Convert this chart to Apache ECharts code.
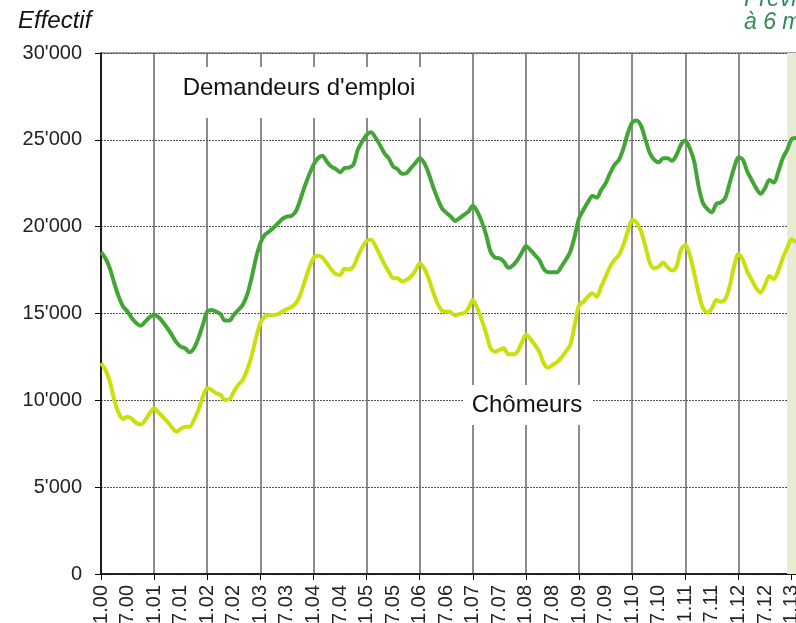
<!DOCTYPE html>
<html>
<head>
<meta charset="utf-8">
<script src="https://cdn.jsdelivr.net/npm/echarts@6/dist/echarts.min.js"></script>
<style>
  html, body { margin: 0; padding: 0; background: #fff; }
  #chart { width: 796px; height: 623px; }
</style>
</head>
<body>
<div id="chart"></div>
<script>
// months 1.00 .. 2.13 (label = month.year)
var months = [];
for (var y = 0; y <= 13; y++) {
  for (var m = 1; m <= 12; m++) {
    if (y === 13 && m > 2) break;
    months.push(m + '.' + (y < 10 ? '0' + y : y));
  }
}

var demandeurs = [
  18530, 18180, 17600, 16740, 15970, 15400, 15110, 14730, 14440, 14300, 14530, 14790,
  14920, 14790, 14500, 14150, 13770, 13350, 13090, 13000, 12770, 13000, 13580, 14340,
  15110, 15200, 15110, 14960, 14590, 14590, 14920, 15200, 15490, 16070, 17030, 18180,
  19050, 19530, 19720, 19950, 20200, 20450, 20580, 20620, 20870, 21540, 22310, 22980,
  23560, 23940, 24090, 23750, 23460, 23330, 23140, 23370, 23400, 23560, 24420, 24900,
  25290, 25440, 25130, 24710, 24230, 23940, 23460, 23310, 23040, 23080, 23370, 23660,
  23940, 23660, 23080, 22310, 21640, 21060, 20800, 20580, 20330, 20490, 20680, 20870,
  21210, 20870, 20290, 19530, 18560, 18220, 18180, 17990, 17640, 17760, 18050, 18470,
  18890, 18660, 18370, 18090, 17570, 17380, 17380, 17380, 17700, 18090, 18560, 19430,
  20490, 20970, 21410, 21770, 21670, 22120, 22500, 23080, 23560, 23850, 24500, 25380,
  25990, 26110, 25800, 25000, 24230, 23850, 23710, 23940, 23940, 23790, 24130, 24710,
  24960, 24520, 23750, 22310, 21350, 21010, 20830, 21310, 21390, 21640, 22500, 23370,
  24000, 23850, 23170, 22690, 22220, 21890, 22220, 22690, 22540, 23170, 23940, 24420,
  25040, 25100
];

var chomeurs = [
  12140, 11750, 11080, 10020, 9260, 8930, 9060, 8930, 8680, 8620, 8870, 9260,
  9540, 9290, 9030, 8770, 8450, 8200, 8350, 8480, 8480, 8870, 9450, 10210,
  10700, 10600, 10410, 10310, 10020, 10060, 10500, 10890, 11170, 11750, 12520, 13580,
  14440, 14820, 14920, 14920, 14960, 15110, 15260, 15360, 15590, 16070, 16840, 17610,
  18180, 18320, 18220, 17900, 17550, 17280, 17220, 17570, 17550, 17700, 18280, 18800,
  19180, 19240, 18890, 18370, 17840, 17410, 17030, 17030, 16840, 16930, 17120, 17450,
  17900, 17610, 17030, 16260, 15590, 15170, 15110, 15070, 14880, 14980, 15020, 15300,
  15780, 15300, 14630, 13860, 13000, 12800, 12900, 13000, 12650, 12650, 12770, 13290,
  13770, 13540, 13190, 12800, 12140, 11880, 12040, 12190, 12460, 12800, 13190, 14340,
  15490, 15680, 15970, 16170, 15970, 16550, 17120, 17700, 18090, 18370, 18950, 19720,
  20390, 20240, 19720, 18850, 17900, 17610, 17700, 17930, 17660, 17470, 17700, 18660,
  18950, 18370, 17320, 16170, 15300, 15050, 15300, 15780, 15680, 15820, 16550, 17700,
  18430, 18090, 17410, 16930, 16460, 16200, 16650, 17160, 16990, 17470, 18180, 18760,
  19280, 19080
];

var forecastFrom = '12.12';

function fmt(v) {
  return String(v).replace(/\B(?=(\d{3})+(?!\d))/g, "'");
}

var chart = echarts.init(document.getElementById('chart'));
chart.setOption({
  animation: false,
  textStyle: { fontFamily: 'Liberation Sans, Arial, sans-serif' },
  grid: {
    left: 101, right: 0, top: 53, bottom: 49,
    outerBoundsMode: 'none',
    show: true, borderColor: '#888', borderWidth: 1.5, backgroundColor: 'transparent'
  },
  xAxis: {
    type: 'category',
    data: months,
    boundaryGap: false,
    axisLine: { lineStyle: { color: '#000', width: 1.5 } },
    axisTick: {
      show: true, length: 6, lineStyle: { color: '#000' },
      interval: function (i) { return i % 12 === 0; }
    },
    axisLabel: {
      rotate: 90, fontSize: 20, color: '#222', margin: 11,
      interval: function (i) { return i % 6 === 0; }
    },
    splitLine: {
      show: true, lineStyle: { color: '#666', width: 1.5 },
      interval: function (i) { return i % 12 === 0; }
    }
  },
  yAxis: {
    type: 'value',
    min: 0, max: 30000, interval: 5000,
    axisLine: { show: true, lineStyle: { color: '#000', width: 1.5 } },
    axisTick: { show: true, length: 6, lineStyle: { color: '#000' } },
    axisLabel: { fontSize: 20, color: '#222', margin: 19, formatter: fmt },
    splitLine: { lineStyle: { color: '#555', type: [2, 1], width: 1 } }
  },
  series: [
    {
      name: "Demandeurs d'emploi",
      type: 'line',
      data: demandeurs,
      showSymbol: false,
      smooth: 0.3,
      lineStyle: { color: '#43a535', width: 4 },
      z: 5,
      markArea: {
        silent: true,
        itemStyle: { color: '#e8ebd4' },
        data: [[{ xAxis: forecastFrom }, { xAxis: months[months.length - 1] }]]
      }
    },
    {
      name: 'Chômeurs',
      type: 'line',
      data: chomeurs,
      showSymbol: false,
      smooth: 0.3,
      lineStyle: { color: '#c9e00c', width: 4 },
      z: 4
    }
  ],
  graphic: [
    { type: 'text', left: 18, top: 9, z: 20,
      style: { text: 'Effectif', font: 'italic 24px Liberation Sans, Arial, sans-serif', fill: '#111' } },
    { type: 'text', left: 744, top: -12, z: 20,
      style: { text: 'Prévision', font: 'italic 23px Liberation Sans, Arial, sans-serif', fill: '#2e8b5a' } },
    { type: 'text', left: 744, top: 11, z: 20,
      style: { text: 'à 6 mois', font: 'italic 23px Liberation Sans, Arial, sans-serif', fill: '#2e8b5a' } },
    { type: 'rect', shape: { x: 172, y: 67, width: 254, height: 51 }, z: 10,
      style: { fill: '#fff' } },
    { type: 'text', x: 299, y: 88, z: 20,
      style: { text: "Demandeurs d'emploi", font: '24px Liberation Sans, Arial, sans-serif',
               fill: '#111', textAlign: 'center', textVerticalAlign: 'middle' } },
    { type: 'rect', shape: { x: 463, y: 385, width: 129, height: 40 }, z: 10,
      style: { fill: '#fff' } },
    { type: 'text', x: 527, y: 405, z: 20,
      style: { text: 'Chômeurs', font: '24px Liberation Sans, Arial, sans-serif',
               fill: '#111', textAlign: 'center', textVerticalAlign: 'middle' } }
  ]
});
</script>
</body>
</html>
